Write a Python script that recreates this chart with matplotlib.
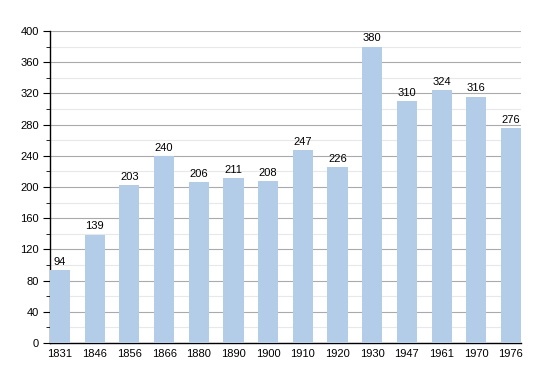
import matplotlib
matplotlib.use('Agg')
import matplotlib.pyplot as plt
import numpy as np

# population by census year
years = ['1831', '1846', '1856', '1866', '1880', '1890', '1900',
         '1910', '1920', '1930', '1947', '1961', '1970', '1976']
population = [94, 139, 203, 240, 206, 211, 208, 247, 226, 380, 310, 324, 316, 276]

plt.rcParams['font.family'] = ['Liberation Sans', 'DejaVu Sans']

fig = plt.figure(figsize=(5.5, 3.73), dpi=100)
ax = fig.add_axes([50/550, 1-343/373, 471/550, 312/373])

x = np.arange(len(years))
ax.bar(x, population, width=0.58, color='#b3cde8', zorder=3)
for xi, v in zip(x, population):
    ax.text(xi, v + 4, str(v), ha='center', va='bottom', fontsize=8, zorder=4)

ax.set_xlim(-0.29, len(years) - 1 + 0.29)
ax.set_ylim(0, 400)
ax.set_yticks(np.arange(0, 401, 40))
ax.set_yticks(np.arange(20, 400, 40), minor=True)
ax.set_xticks(x)
ax.set_xticklabels(years)
ax.tick_params(axis='x', length=0, labelsize=8, pad=4)
ax.tick_params(axis='y', which='major', length=5, labelsize=8, pad=3)
ax.tick_params(axis='y', which='minor', length=3)
ax.grid(axis='y', which='major', color='#aaaaaa', linewidth=0.8, zorder=0)
ax.grid(axis='y', which='minor', color='#e8e8e8', linewidth=0.8, zorder=0)
for s in ['top', 'right']:
    ax.spines[s].set_visible(False)
ax.spines['left'].set_linewidth(1)
ax.spines['bottom'].set_linewidth(1)

fig.savefig('out.png', dpi=100)
